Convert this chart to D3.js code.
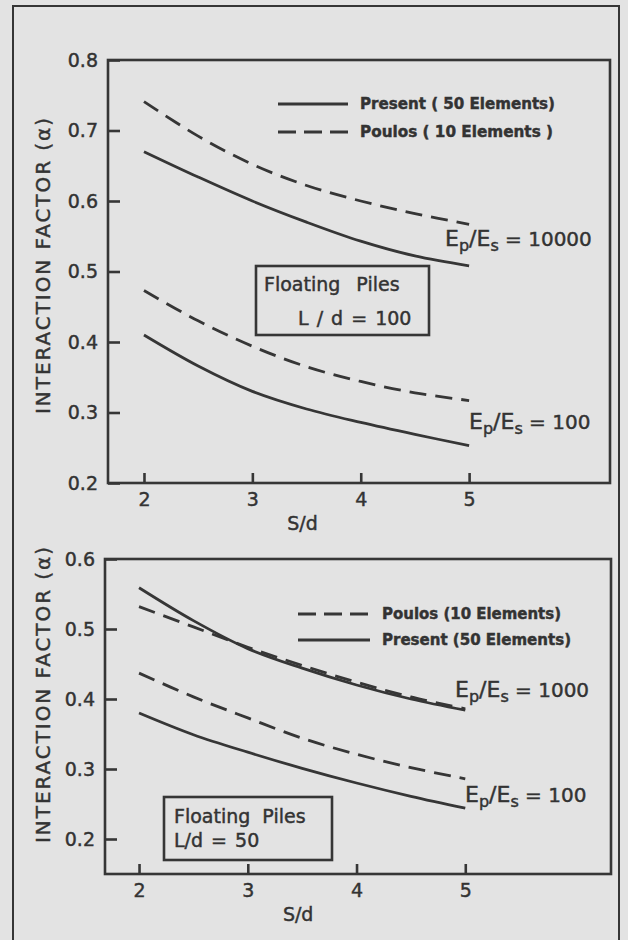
<!DOCTYPE html>
<html>
<head>
<meta charset="utf-8">
<script src="https://cdn.jsdelivr.net/npm/d3@7"></script>
<style>
  html, body { margin: 0; padding: 0; background: #e3e3e3; }
  svg { display: block; }
  text { font-family: "DejaVu Sans", sans-serif; fill: #333; stroke: #333; stroke-width: 0.45px; }
</style>
</head>
<body>
<svg id="chart" width="628" height="940"></svg>
<script>
// Spacing ratio S/d shared by every curve
const spacing = [2, 2.5, 3, 3.5, 4, 4.5, 5];
const xTicks = [2, 3, 4, 5];

// Upper panel: L/d = 100
const upperTicks = [0.2, 0.3, 0.4, 0.5, 0.6, 0.7, 0.8];
const upperPresent10000 = [0.670, 0.634, 0.600, 0.570, 0.543, 0.522, 0.508];
const upperPoulos10000  = [0.741, 0.692, 0.652, 0.622, 0.600, 0.582, 0.567];
const upperPresent100   = [0.410, 0.366, 0.330, 0.305, 0.286, 0.269, 0.253];
const upperPoulos100    = [0.473, 0.430, 0.394, 0.365, 0.344, 0.328, 0.317];

// Lower panel: L/d = 50
const lowerTicks = [0.2, 0.3, 0.4, 0.5, 0.6];
const lowerPresent1000 = [0.559, 0.512, 0.472, 0.444, 0.420, 0.400, 0.384];
const lowerPoulos1000  = [0.532, 0.503, 0.474, 0.448, 0.424, 0.403, 0.386];
const lowerPresent100  = [0.380, 0.349, 0.324, 0.301, 0.280, 0.261, 0.244];
const lowerPoulos100   = [0.437, 0.403, 0.373, 0.344, 0.321, 0.302, 0.286];

const INK = "#363636";
const DASH = "17,9";
const svg = d3.select("#chart");

// Outer frame around the figure
svg.append("rect")
  .attr("x", 13).attr("y", 6).attr("width", 606).attr("height", 960)
  .attr("fill", "none").attr("stroke", INK).attr("stroke-width", 2);

function panel(cfg) {
  const g = svg.append("g");
  const x = d3.scaleLinear().domain(cfg.xDomain).range([cfg.left, cfg.right]);
  const y = d3.scaleLinear().domain(cfg.yDomain).range([cfg.bottom, cfg.top]);

  // plot box
  g.append("rect")
    .attr("x", cfg.left).attr("y", cfg.top)
    .attr("width", cfg.right - cfg.left).attr("height", cfg.bottom - cfg.top)
    .attr("fill", "none").attr("stroke", INK).attr("stroke-width", 2.6);

  // y axis with inward ticks
  const yAxis = d3.axisLeft(y).tickValues(cfg.yTicks).tickSizeInner(-12).tickSizeOuter(0)
    .tickPadding(10).tickFormat(d3.format(".1f"));
  const ya = g.append("g").attr("transform", `translate(${cfg.left},0)`).call(yAxis);
  ya.select(".domain").remove();
  ya.selectAll(".tick line").attr("stroke", INK).attr("stroke-width", 2.6);
  ya.selectAll(".tick text").attr("font-size", 19).attr("fill", INK)
    .attr("font-family", "DejaVu Sans, sans-serif");

  // x axis with inward ticks
  const xAxis = d3.axisBottom(x).tickValues(xTicks).tickSizeInner(-10).tickSizeOuter(0)
    .tickPadding(10).tickFormat(d3.format("d"));
  const xa = g.append("g").attr("transform", `translate(0,${cfg.bottom})`).call(xAxis);
  xa.select(".domain").remove();
  xa.selectAll(".tick line").attr("stroke", INK).attr("stroke-width", 2.6);
  xa.selectAll(".tick text").attr("font-size", 19).attr("fill", INK)
    .attr("font-family", "DejaVu Sans, sans-serif");

  // axis titles
  g.append("text")
    .attr("x", x(3.5) - 4).attr("y", cfg.bottom + 47)
    .attr("text-anchor", "middle").attr("font-size", 19)
    .text("S/d");
  g.append("text")
    .attr("transform", `translate(${cfg.titleX},${cfg.titleY}) rotate(-90)`)
    .attr("text-anchor", "middle").attr("font-size", 20)
    .attr("textLength", 296).attr("lengthAdjust", "spacing")
    .text("INTERACTION  FACTOR  (α)");

  // curves
  const line = d3.line().x((d, i) => x(spacing[i])).y(d => y(d)).curve(d3.curveCatmullRom.alpha(0.5));
  cfg.series.forEach(s => {
    g.append("path").datum(s.values)
      .attr("d", line)
      .attr("fill", "none").attr("stroke", INK).attr("stroke-width", 2.8)
      .attr("stroke-dasharray", s.dashed ? DASH : null);
  });

  // legend
  cfg.legend.forEach(l => {
    g.append("line")
      .attr("x1", l.x).attr("x2", l.x + l.w).attr("y1", l.y).attr("y2", l.y)
      .attr("stroke", INK).attr("stroke-width", 3.2)
      .attr("stroke-dasharray", l.dashed ? "18,8" : null);
    g.append("text")
      .attr("x", l.x + l.w + 12).attr("y", l.y + 5)
      .attr("font-family", "DejaVu Sans Condensed, DejaVu Sans, sans-serif")
      .attr("font-weight", "bold").attr("font-size", 15)
      .attr("textLength", l.len).attr("lengthAdjust", "spacingAndGlyphs")
      .text(l.label);
  });

  // stiffness ratio labels  Ep/Es = ...
  cfg.ratios.forEach(r => {
    const t = g.append("text").attr("x", r.x).attr("y", r.y).attr("font-size", 22);
    t.append("tspan").text("E");
    t.append("tspan").attr("font-size", 16).attr("dy", 5).text("p");
    t.append("tspan").attr("dy", -5).text("/E");
    t.append("tspan").attr("font-size", 16).attr("dy", 5).text("s");
    t.append("tspan").attr("dy", -5).attr("font-size", 20).text(" = " + r.value);
  });

  // note box
  const b = cfg.box;
  g.append("rect").attr("x", b.x).attr("y", b.y).attr("width", b.w).attr("height", b.h)
    .attr("fill", "none").attr("stroke", INK).attr("stroke-width", 2.6);
  b.lines.forEach(l => {
    g.append("text").attr("x", l.x).attr("y", l.y).attr("font-size", 19)
      .attr("word-spacing", l.ws || 0).text(l.text);
  });
}

panel({
  left: 108, right: 610, top: 60, bottom: 483,
  xDomain: [1.668, 6.30], yDomain: [0.2, 0.8], yTicks: upperTicks,
  titleX: 50, titleY: 266,
  series: [
    { values: upperPresent10000, dashed: false },
    { values: upperPoulos10000, dashed: true },
    { values: upperPresent100, dashed: false },
    { values: upperPoulos100, dashed: true }
  ],
  legend: [
    { x: 278, y: 104, w: 70, dashed: false, label: "Present ( 50 Elements)", len: 195 },
    { x: 278, y: 132, w: 70, dashed: true, label: "Poulos  ( 10 Elements )", len: 193 }
  ],
  ratios: [
    { x: 445, y: 246, value: "10000" },
    { x: 469, y: 429, value: "100" }
  ],
  box: { x: 256, y: 266, w: 173, h: 69,
    lines: [ { x: 264, y: 291, text: "Floating Piles", ws: 10 },
             { x: 298, y: 325, text: "L / d = 100", ws: 2 } ] }
});

panel({
  left: 105, right: 611, top: 559, bottom: 874,
  xDomain: [1.687, 6.34], yDomain: [0.15, 0.6], yTicks: lowerTicks,
  titleX: 50, titleY: 695,
  series: [
    { values: lowerPresent1000, dashed: false },
    { values: lowerPoulos1000, dashed: true },
    { values: lowerPresent100, dashed: false },
    { values: lowerPoulos100, dashed: true }
  ],
  legend: [
    { x: 298, y: 614, w: 72, dashed: true, label: "Poulos (10 Elements)", len: 179 },
    { x: 298, y: 640, w: 72, dashed: false, label: "Present (50 Elements)", len: 189 }
  ],
  ratios: [
    { x: 455, y: 697, value: "1000" },
    { x: 465, y: 802, value: "100" }
  ],
  box: { x: 164, y: 797, w: 168, h: 63,
    lines: [ { x: 174, y: 823, text: "Floating Piles", ws: 6 },
             { x: 174, y: 847, text: "L/d = 50", ws: 2 } ] }
});
</script>
</body>
</html>
